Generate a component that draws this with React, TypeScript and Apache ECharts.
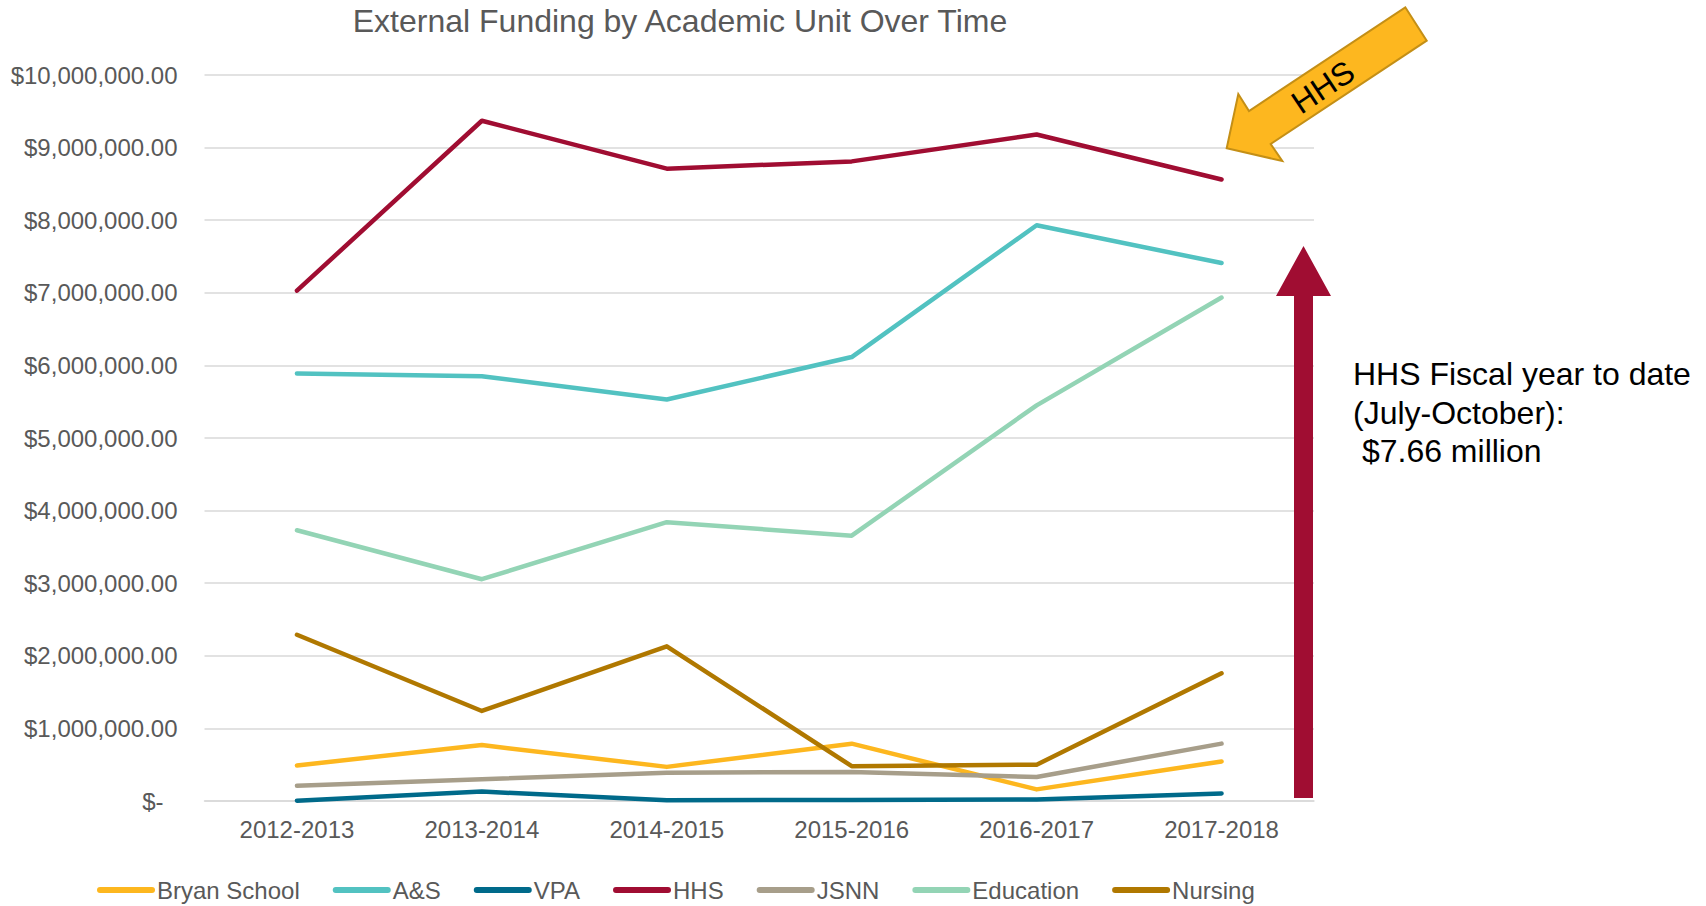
import React, { useEffect, useRef } from "react";
import * as echarts from "echarts";

const categories = ["2012-2013", "2013-2014", "2014-2015", "2015-2016", "2016-2017", "2017-2018"];
const bryanSchool = [490000, 770000, 470000, 790000, 160000, 545000];
const artsSciences = [5890000, 5850000, 5530000, 6115000, 7930000, 7410000];
const vpa = [5000, 130000, 10000, 15000, 20000, 105000];
const hhs = [7030000, 9370000, 8710000, 8810000, 9180000, 8560000];
const jsnn = [210000, 300000, 390000, 400000, 330000, 790000];
const education = [3730000, 3055000, 3840000, 3655000, 5450000, 6935000];
const nursing = [2290000, 1240000, 2130000, 480000, 500000, 1760000];

const seriesNames = ["Bryan School", "A&S", "VPA", "HHS", "JSNN", "Education", "Nursing"];
const seriesData = [bryanSchool, artsSciences, vpa, hhs, jsnn, education, nursing];
const seriesColors = ["#FDB71F", "#52C2C1", "#006A8A", "#A00D32", "#A79E8A", "#93D4B5", "#B07800"];

const FONT = '"Liberation Sans", Arial, sans-serif';

export default function App() {
  const ref = useRef<HTMLDivElement>(null);

  useEffect(() => {
    if (!ref.current) return;
    const chart = echarts.init(ref.current, undefined, { renderer: "svg" });
    const option: any = {
      animation: false,
      backgroundColor: "#ffffff",
      textStyle: { fontFamily: FONT },
      title: {
        text: "External Funding by Academic Unit Over Time",
        left: 680,
        top: 4.5,
        padding: 0,
        textAlign: "center",
        textStyle: { fontFamily: FONT, fontSize: 32, fontWeight: "normal", color: "#595959" },
      },
      legend: {
        left: 97,
        top: 878,
        padding: 0,
        itemWidth: 52,
        itemHeight: 26,
        itemGap: 33,
        lineStyle: { width: 6, cap: "round" },
        itemStyle: { opacity: 0 },
        textStyle: { fontFamily: FONT, fontSize: 24, color: "#595959" },
        data: seriesNames,
      },
      grid: { left: 204.5, right: 392, top: 75, bottom: 105, containLabel: false },
      xAxis: {
        type: "category",
        data: categories,
        boundaryGap: true,
        axisLine: { show: true, lineStyle: { color: "#D9D9D9", width: 1.5 } },
        axisTick: { show: false },
        axisLabel: { fontFamily: FONT, fontSize: 24, color: "#595959", margin: 16 },
      },
      yAxis: {
        type: "value",
        min: 0,
        max: 10000000,
        interval: 1000000,
        axisLine: { show: false },
        axisTick: { show: false },
        splitLine: { lineStyle: { color: "#D9D9D9", width: 1.5 } },
        axisLabel: {
          fontFamily: FONT,
          fontSize: 24,
          color: "#595959",
          margin: 27,
          formatter: (v: number) =>
            v === 0
              ? "{z|$-}"
              : "$" + v.toLocaleString("en-US", { minimumFractionDigits: 2, maximumFractionDigits: 2 }),
          rich: {
            z: { fontFamily: FONT, fontSize: 24, color: "#595959", padding: [0, 14, 0, 0] },
          },
        },
      },
      series: seriesNames.map((name, i) => ({
        name,
        type: "line",
        data: seriesData[i],
        symbol: "none",
        color: seriesColors[i],
        lineStyle: { width: 4.5, color: seriesColors[i], cap: "round", join: "round" },
        z: 2 + i,
      })),
      graphic: [
        {
          type: "polygon",
          shape: {
            points: [
              [1294, 798],
              [1294, 296],
              [1276, 296],
              [1303.5, 246],
              [1331, 296],
              [1313, 296],
              [1313, 798],
            ],
          },
          style: { fill: "#A00D32" },
          z: 20,
        },
        {
          type: "polygon",
          shape: {
            points: [
              [1226.7, 148.3],
              [1238.3, 94],
              [1249, 111],
              [1405.3, 7.3],
              [1426.7, 40.7],
              [1270.7, 144],
              [1282.3, 161],
            ],
          },
          style: { fill: "#FDB71F", stroke: "#C48F16", lineWidth: 2 },
          z: 20,
        },
        {
          type: "text",
          x: 1323,
          y: 87,
          rotation: (33.7 * Math.PI) / 180,
          style: {
            text: "HHS",
            fontFamily: FONT,
            fontSize: 32,
            fill: "#000000",
            textAlign: "center",
            textVerticalAlign: "middle",
          },
          z: 21,
        },
        {
          type: "text",
          x: 1353,
          y: 355,
          style: {
            text: "HHS Fiscal year to date\n(July-October):\n $7.66 million",
            fontFamily: FONT,
            fontSize: 32,
            lineHeight: 38.5,
            fill: "#000000",
            textAlign: "left",
            textVerticalAlign: "top",
          },
          z: 21,
        },
      ],
    };
    chart.setOption(option);
    return () => chart.dispose();
  }, []);

  return (
    <div
      ref={ref}
      style={{ position: "fixed", left: 0, top: 0, width: 1706, height: 906, background: "#fff" }}
    />
  );
}
